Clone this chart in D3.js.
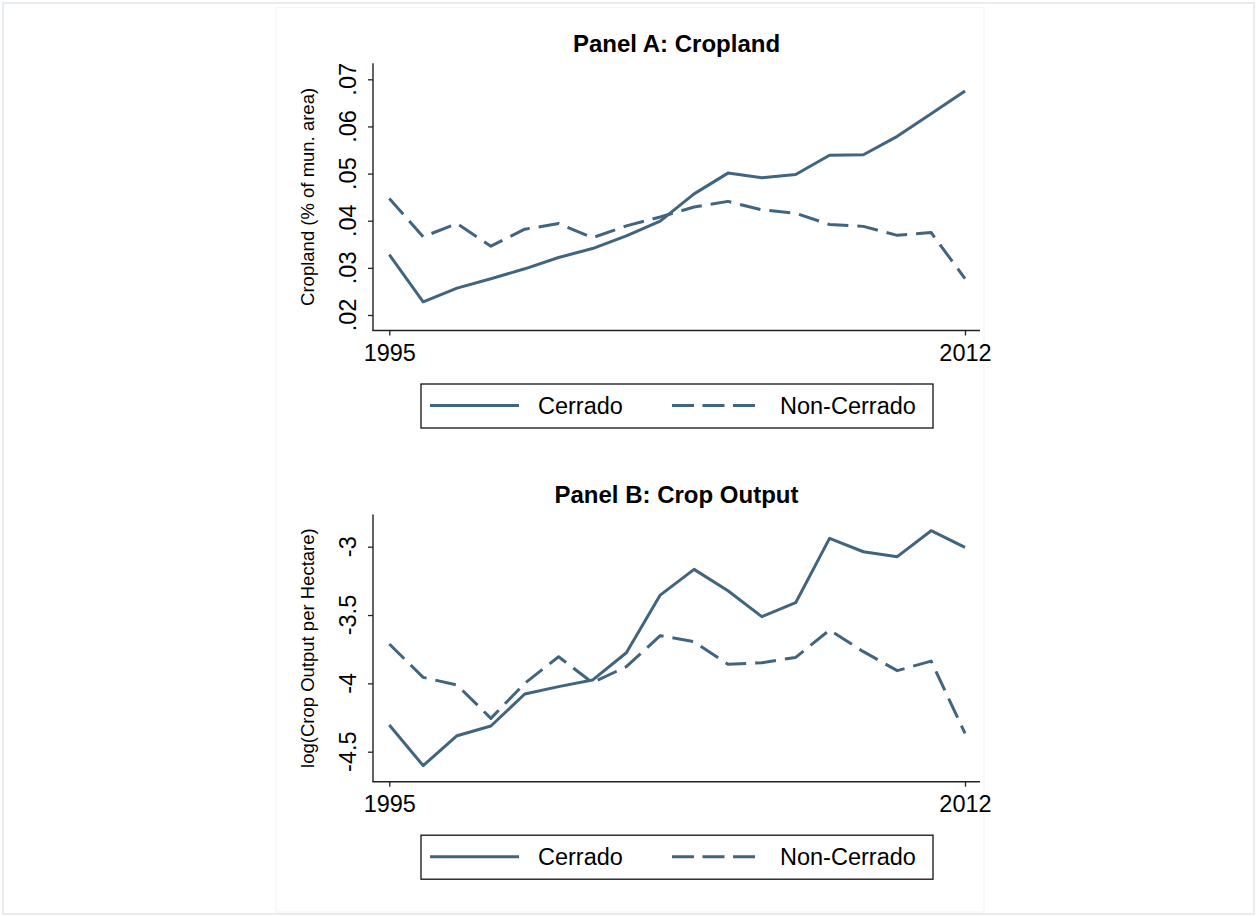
<!DOCTYPE html>
<meta charset="utf-8">
<style>
  body { margin: 0; background: #fff; }
  svg text { font-family: "Liberation Sans", Arial, sans-serif; fill: #000; }
</style>
<div id="chart"></div>
<script src="https://cdn.jsdelivr.net/npm/d3@7"></script>
<script>

// data
var years = [1995, 1996, 1997, 1998, 1999, 2000, 2001, 2002, 2003,
             2004, 2005, 2006, 2007, 2008, 2009, 2010, 2011, 2012];

var croplandCerrado = [.0328, .0228, .0257, .0277, .0298, .0322, .0341, .0368, .0399,
                       .0457, .0501, .0491, .0498, .0539, .0540, .0579, .0627, .0675];
var croplandNonCerrado = [.0447, .0366, .0394, .0346, .0382, .0394, .0364, .0389, .0408,
                          .0429, .0441, .0423, .0416, .0392, .0388, .0369, .0375, .0277];

var outputCerrado = [-4.305, -4.602, -4.383, -4.312, -4.078, -4.024, -3.976, -3.776, -3.354,
                     -3.166, -3.322, -3.512, -3.410, -2.939, -3.037, -3.073, -2.883, -3.005];
var outputNonCerrado = [-3.712, -3.956, -4.012, -4.256, -4.000, -3.805, -3.995, -3.878, -3.651,
                        -3.695, -3.861, -3.849, -3.810, -3.610, -3.768, -3.907, -3.837, -4.366];

var xTicks = [1995, 2012];
var cropTicks = [.02, .03, .04, .05, .06, .07];
var cropTickLabels = [".02", ".03", ".04", ".05", ".06", ".07"];
var outputTicks = [-4.5, -4, -3.5, -3];
var outputTickLabels = ["-4.5", "-4", "-3.5", "-3"];
var seriesNames = ["Cerrado", "Non-Cerrado"];

var lineColor = "#41657f";
var dash = "21,9";

var svg = d3.select("#chart").append("svg")
    .attr("width", 1257)
    .attr("height", 916);

svg.append("rect")
    .attr("width", 1257).attr("height", 916)
    .attr("fill", "#fff");

// outer frame + faint graph region
svg.append("rect")
    .attr("x", 3).attr("y", 3)
    .attr("width", 1251).attr("height", 911)
    .attr("fill", "none")
    .attr("stroke", "#e6ecef")
    .attr("stroke-width", 2);

svg.append("rect")
    .attr("x", 276).attr("y", 7.5)
    .attr("width", 708).attr("height", 904.5)
    .attr("fill", "none")
    .attr("stroke", "#f3f3f3")
    .attr("stroke-width", 1);

function drawPanel(p) {
  var g = svg.append("g").attr("transform", "translate(0," + p.dy + ")");

  var x = d3.scaleLinear().domain([1995, 2012]).range([389.3, 965]);
  var y = d3.scaleLinear().domain(p.yDomain).range(p.yRange);

  var left = 373, right = 980, top = 63.3, bottom = 330.5;

  g.append("text")
      .attr("x", (left + right) / 2)
      .attr("y", 51.7)
      .attr("text-anchor", "middle")
      .style("font-size", "24px")
      .style("font-weight", "bold")
      .text(p.title);

  // axes lines
  g.append("line")
      .attr("x1", left).attr("x2", left)
      .attr("y1", top).attr("y2", bottom)
      .attr("stroke", "#222").attr("stroke-width", 1.4);
  g.append("line")
      .attr("x1", left - 0.7).attr("x2", right)
      .attr("y1", bottom).attr("y2", bottom)
      .attr("stroke", "#222").attr("stroke-width", 1.4);

  var xAxis = g.append("g")
      .attr("transform", "translate(0," + bottom + ")")
      .call(d3.axisBottom(x)
        .tickValues(xTicks)
        .tickFormat(d3.format("d"))
        .tickSize(5)
        .tickSizeOuter(0)
        .tickPadding(9));
  xAxis.select(".domain").remove();
  xAxis.selectAll("line").attr("stroke", "#222").attr("stroke-width", 1.3);
  xAxis.selectAll("text")
      .style("font-size", "23.5px")
      .style("font-family", "'Liberation Sans', Arial, sans-serif");

  var yAxis = g.append("g")
      .attr("transform", "translate(" + left + ",0)")
      .call(d3.axisLeft(y)
        .tickValues(p.ticks)
        .tickFormat("")
        .tickSize(5)
        .tickSizeOuter(0));
  yAxis.select(".domain").remove();
  yAxis.selectAll("line").attr("stroke", "#222").attr("stroke-width", 1.3);

  g.selectAll(".ylab")
    .data(p.ticks)
    .enter().append("text")
      .attr("class", "ylab")
      .attr("transform", function(d) { return "translate(" + (left - 17.5) + "," + y(d) + ") rotate(-90)"; })
      .attr("text-anchor", "middle")
      .style("font-size", "23.5px")
      .text(function(d, i) { return p.tickLabels[i]; });

  g.append("text")
      .attr("transform", "translate(314," + (top + bottom) / 2 + ") rotate(-90)")
      .attr("text-anchor", "middle")
      .style("font-size", "18.5px")
      .text(p.yTitle);

  var line = d3.line()
      .x(function(d, i) { return x(years[i]); })
      .y(function(d) { return y(d); });

  g.append("path")
      .datum(p.series[0])
      .attr("d", line)
      .attr("fill", "none")
      .attr("stroke", lineColor)
      .attr("stroke-width", 3)
      .attr("stroke-linejoin", "round");

  g.append("path")
      .datum(p.series[1])
      .attr("d", line)
      .attr("fill", "none")
      .attr("stroke", lineColor)
      .attr("stroke-width", 3)
      .attr("stroke-dasharray", dash)
      .attr("stroke-linejoin", "round");

  // legend
  var lg = g.append("g").attr("transform", "translate(0,384)");
  lg.append("rect")
      .attr("x", 421).attr("y", 0)
      .attr("width", 512).attr("height", 44)
      .attr("fill", "#fff")
      .attr("stroke", "#111")
      .attr("stroke-width", 1.3);
  lg.append("line")
      .attr("x1", 430).attr("x2", 519)
      .attr("y1", 21.5).attr("y2", 21.5)
      .attr("stroke", lineColor).attr("stroke-width", 3);
  lg.append("text")
      .attr("x", 538).attr("y", 30)
      .style("font-size", "23.5px")
      .text(seriesNames[0]);
  lg.append("line")
      .attr("x1", 672).attr("x2", 760)
      .attr("y1", 21.5).attr("y2", 21.5)
      .attr("stroke", lineColor).attr("stroke-width", 3)
      .attr("stroke-dasharray", "22,8.5");
  lg.append("text")
      .attr("x", 780).attr("y", 30)
      .style("font-size", "23.5px")
      .text(seriesNames[1]);
}

drawPanel({
  dy: 0,
  title: "Panel A: Cropland",
  yTitle: "Cropland (% of mun. area)",
  yDomain: [.02, .07],
  yRange: [315, 79.3],
  ticks: cropTicks,
  tickLabels: cropTickLabels,
  series: [croplandCerrado, croplandNonCerrado]
});

drawPanel({
  dy: 451.2,
  title: "Panel B: Crop Output",
  yTitle: "log(Crop Output per Hectare)",
  yDomain: [-4.5, -3],
  yRange: [300.5, 95.5],
  ticks: outputTicks,
  tickLabels: outputTickLabels,
  series: [outputCerrado, outputNonCerrado]
});

</script>
